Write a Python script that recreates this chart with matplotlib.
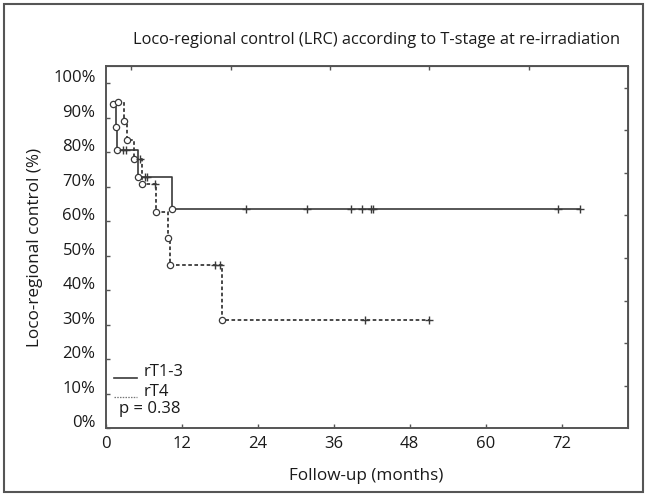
import numpy as np
import matplotlib
matplotlib.use("Agg")
import matplotlib.pyplot as plt
from matplotlib.transforms import ScaledTranslation
from matplotlib.patches import Rectangle

# ---- data ----
title = "Loco-regional control (LRC) according to T-stage at re-irradiation"
xlabel = "Follow-up (months)"
ylabel = "Loco-regional control (%)"
series_names = ["rT1-3", "rT4"]
p_text = "p = 0.38"

xticks = [0, 12, 24, 36, 48, 60, 72]
yticks = [0, 0.1, 0.2, 0.3, 0.4, 0.5, 0.6, 0.7, 0.8, 0.9, 1.0]
ytick_labels = ["0%", "10%", "20%", "30%", "40%", "50%", "60%", "70%", "80%", "90%", "100%"]
top_ticks = [3.9, 19.7, 35.4, 51.1, 66.8]
right_ticks = [0.122, 0.246, 0.368, 0.492, 0.617, 0.741, 0.864, 0.987]

# rT1-3 (solid)
t13_event_t = [1.15, 1.65, 1.70, 4.98, 10.47]
t13_event_s = [0.941, 0.873, 0.806, 0.727, 0.634]
t13_censor_t = [2.73, 3.11, 6.16, 6.52, 22.1, 31.8, 38.7, 40.4, 41.9, 42.2, 71.4, 74.9]

# rT4 (dashed)
t4_event_t = [1.9, 2.9, 3.3, 4.42, 5.75, 7.98, 9.75, 10.1, 18.3]
t4_event_s = [0.946, 0.89, 0.835, 0.779, 0.707, 0.627, 0.55, 0.472, 0.313]
t4_censor_t = [5.37, 7.74, 17.2, 18.0, 40.9, 51.0]

plt.rcParams['font.family'] = ['Open Sans', 'DejaVu Sans']
TXT = '#1a1a1a'
LINE = '#3a3a3a'
FS = 12

fig = plt.figure(figsize=(6.46, 4.96), dpi=100)
ax = fig.add_axes([106/646, 68/496, 522/646, 362/496])


def km(ax, et, es, ct, ls, lw):
    end = max(ct)
    xs = list(et) + [end]
    ys = list(es) + [es[-1]]
    ax.plot(xs, ys, drawstyle='steps-post', color=LINE, lw=lw, ls=ls, zorder=2)
    ax.plot(et, es, ls='none', marker='o', ms=4.5, mfc='white', mec=LINE, mew=0.9, zorder=3)
    idx = np.searchsorted(np.array(et), np.array(ct), side='right') - 1
    cy = np.array(es)[idx]
    ax.plot(ct, cy, ls='none', marker='+', ms=6, mec=LINE, mew=1.0, zorder=3)


km(ax, t13_event_t, t13_event_s, t13_censor_t, '-', 1.2)
km(ax, t4_event_t, t4_event_s, t4_censor_t, (0, (2.0, 1.4)), 1.3)

ax.set_xlim(0, 82.5)
ax.set_ylim(0, 1.05)
ax.set_xticks(xticks)
ax.set_xticklabels([str(v) for v in xticks])
ax.set_yticks(yticks)
ax.set_yticklabels(ytick_labels)
ax.tick_params(axis='both', direction='in', length=3, width=1, color='#555',
               labelsize=FS, labelcolor=TXT)
ax.tick_params(axis='x', pad=5.5)
ax.tick_params(axis='y', pad=7.5)
for tk in ax.yaxis.get_major_ticks():
    tk.label1.set_transform(tk.label1.get_transform() +
                            ScaledTranslation(0, 7/100, fig.dpi_scale_trans))

for sp in ax.spines.values():
    sp.set_color('#555')
    sp.set_linewidth(1.4)

# top / right minor tick marks
axt = ax.secondary_xaxis('top')
axt.set_xticks(top_ticks)
axt.set_xticklabels([])
axt.tick_params(direction='in', length=3, width=1, color='#555')
axr = ax.secondary_yaxis('right')
axr.set_yticks(right_ticks)
axr.set_yticklabels([])
axr.tick_params(direction='in', length=3, width=1, color='#555')

# legend drawn inside lower left
ax.plot([0.0153, 0.0594], [0.139, 0.139], transform=ax.transAxes, color=LINE, lw=1.2)
ax.plot([0.0153, 0.0594], [0.0865, 0.0865], transform=ax.transAxes, color='#777',
        lw=0.9, ls=(0, (1.2, 1.0)))
ax.text(0.0728, 0.143, series_names[0], transform=ax.transAxes, fontsize=FS,
        color=TXT, va='baseline', ha='left')
ax.text(0.0728, 0.089, series_names[1], transform=ax.transAxes, fontsize=FS,
        color=TXT, va='baseline', ha='left')
ax.text(0.0249, 0.041, p_text, transform=ax.transAxes, fontsize=FS,
        color=TXT, va='baseline', ha='left')

fig.text(377/646, 1 - 40/496, title, fontsize=11.8, color=TXT, ha='center', va='center')
fig.text(366/646, 1 - 476/496, xlabel, fontsize=12.3, color=TXT, ha='center', va='center')
fig.text(35/646, 1 - 247/496, ylabel, fontsize=12.3, color=TXT, ha='center', va='center',
         rotation=90)

fig.patches.append(Rectangle((4/646, 4/496), 639/646, 488/496, transform=fig.transFigure,
                             fill=False, edgecolor='#555', lw=1.5))

fig.savefig('out.png', dpi=100)
